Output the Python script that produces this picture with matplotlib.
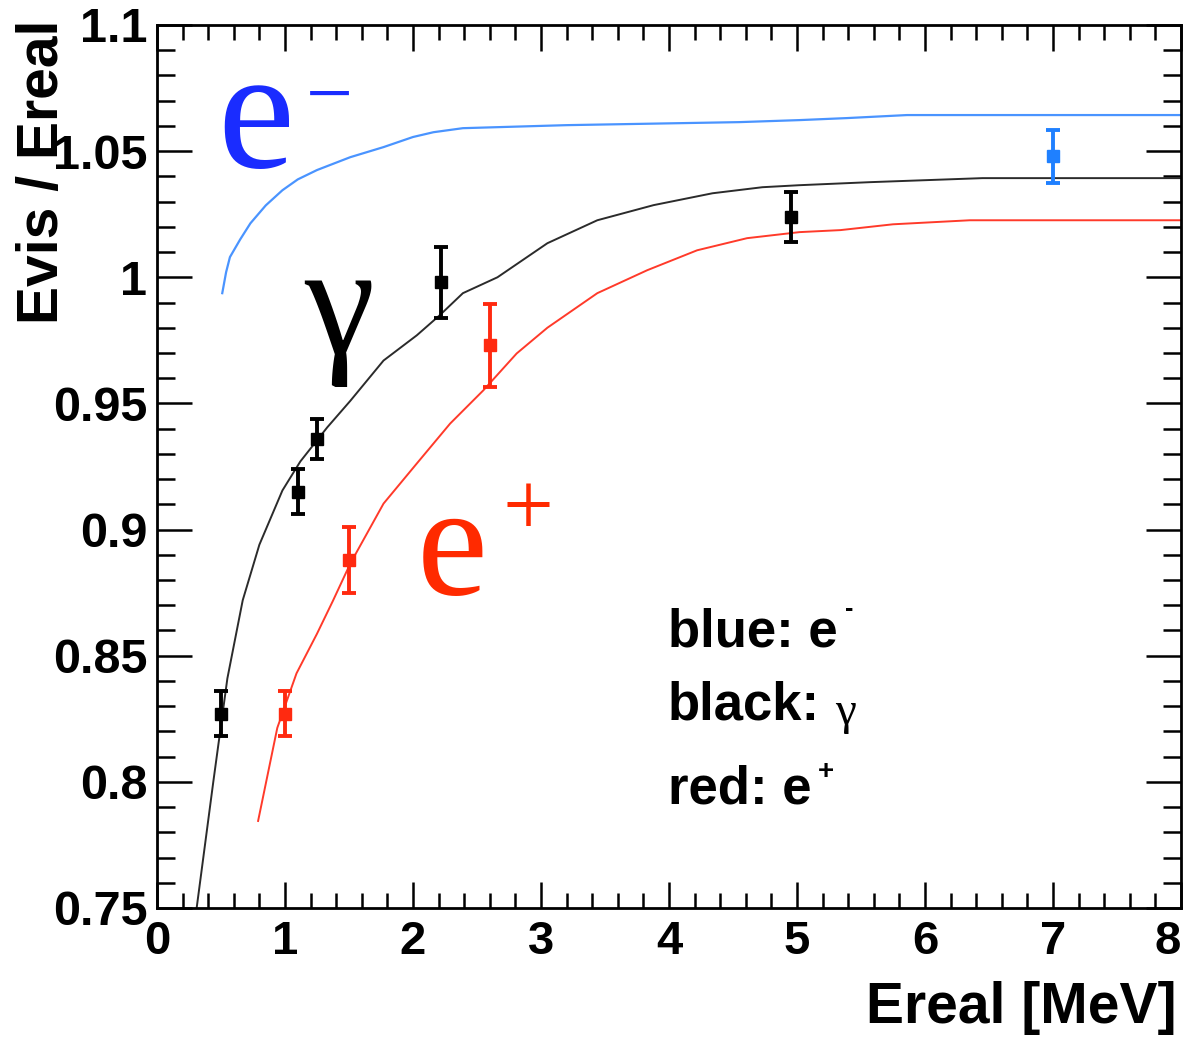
import matplotlib
matplotlib.use("Agg")
import matplotlib.pyplot as plt
from matplotlib.ticker import MultipleLocator

# measured points with errors
gamma_x = [0.5, 1.1, 1.25, 2.22, 4.95]
gamma_y = [0.827, 0.915, 0.936, 0.998, 1.024]
gamma_err = [0.009, 0.009, 0.008, 0.014, 0.010]

positron_x = [1.0, 1.5, 2.6]
positron_y = [0.827, 0.888, 0.973]
positron_err = [0.009, 0.013, 0.0165]

electron_x = [7.0]
electron_y = [1.048]
electron_err = [0.0105]

# model curves
gamma_curve_x = [0.31, 0.44, 0.55, 0.67, 0.80, 0.98, 1.12, 1.33, 1.51, 1.77, 2.03, 2.21,
                 2.39, 2.66, 3.05, 3.44, 3.88, 4.34, 4.73, 5.02, 5.57, 6.45, 8.0]
gamma_curve_y = [0.75, 0.800, 0.841, 0.872, 0.894, 0.9155, 0.927, 0.9405, 0.951, 0.967, 0.977, 0.985,
                 0.9937, 1.0, 1.0135, 1.0226, 1.0286, 1.0333, 1.0357, 1.0365, 1.0377, 1.0393, 1.0393]

positron_curve_x = [0.79, 0.94, 1.09, 1.25, 1.375, 1.51, 1.77, 2.03, 2.29, 2.55, 2.81,
                    3.05, 3.44, 3.83, 4.22, 4.61, 5.02, 5.34, 5.75, 6.35, 8.0]
positron_curve_y = [0.7845, 0.8214, 0.843, 0.8587, 0.8718, 0.8865, 0.9103, 0.9262, 0.942, 0.9552, 0.9698,
                    0.980, 0.9937, 1.0028, 1.0107, 1.0155, 1.0179, 1.0187, 1.0210, 1.0226, 1.0226]

electron_curve_x = [0.51, 0.54, 0.57, 0.65, 0.73, 0.85, 0.98, 1.1, 1.25, 1.51, 1.77, 2.0, 2.16, 2.39, 3.2,
                    4.55, 5.02, 5.39, 5.86, 8.0]
electron_curve_y = [0.9937, 1.002, 1.008, 1.015, 1.0214, 1.0285, 1.0345, 1.0388, 1.0425, 1.0476, 1.0516,
                    1.0556, 1.0575, 1.0591, 1.0603, 1.0615, 1.0623, 1.0631, 1.0643, 1.0643]

x_ticks = [0, 1, 2, 3, 4, 5, 6, 7, 8]
y_ticks = [0.75, 0.8, 0.85, 0.9, 0.95, 1.0, 1.05, 1.1]
y_tick_labels = ["0.75", "0.8", "0.85", "0.9", "0.95", "1", "1.05", "1.1"]

plt.rcParams["font.family"] = ["Liberation Sans", "DejaVu Sans"]

fig = plt.figure(figsize=(11.91, 10.37), dpi=100)
ax = fig.add_axes([0.1318, 0.1244, 0.8598, 0.8515])

ax.plot(electron_curve_x, electron_curve_y, color="#4a94ff", lw=1.6)
ax.plot(gamma_curve_x, gamma_curve_y, color="#2b2b2b", lw=1.4)
ax.plot(positron_curve_x, positron_curve_y, color="#ff3a2a", lw=1.4)

ax.errorbar(gamma_x, gamma_y, yerr=gamma_err, fmt="s", color="black", ms=8.5,
            elinewidth=2.8, capsize=5, capthick=2.8)
ax.errorbar(positron_x, positron_y, yerr=positron_err, fmt="s", color="#ff2a10", ms=8.5,
            elinewidth=2.8, capsize=5, capthick=2.8)
ax.errorbar(electron_x, electron_y, yerr=electron_err, fmt="s", color="#1f80ff", ms=8.5,
            elinewidth=2.8, capsize=5, capthick=2.8)

ax.set_xlim(0, 8)
ax.set_ylim(0.75, 1.1)
ax.set_xticks(x_ticks)
ax.set_xticklabels([str(t) for t in x_ticks])
ax.set_yticks(y_ticks)
ax.set_yticklabels(y_tick_labels)
ax.xaxis.set_minor_locator(MultipleLocator(0.2))
ax.yaxis.set_minor_locator(MultipleLocator(0.01))

for s in ax.spines.values():
    s.set_linewidth(2.0)

ax.tick_params(axis="both", which="both", direction="in", top=True, right=True, width=1.8)
ax.tick_params(axis="x", which="major", length=19, pad=9, labelsize=34)
ax.tick_params(axis="x", which="minor", length=11)
ax.tick_params(axis="y", which="major", length=25, pad=7, labelsize=35)
ax.tick_params(axis="y", which="minor", length=13)
for lbl in ax.get_xticklabels() + ax.get_yticklabels():
    lbl.set_fontweight("bold")
ax.get_xticklabels()[-1].set_horizontalalignment("right")

ax.set_xlabel("Ereal [MeV]", fontsize=41, fontweight="bold", loc="right")
ax.xaxis.set_label_coords(0.996, -0.083)
ax.set_ylabel("Evis / Ereal", fontsize=41, fontweight="bold", loc="top")
ax.yaxis.set_label_coords(-0.085, 1.006)

# big particle labels
serif = ["Liberation Serif", "DejaVu Serif"]
ax.text(0.47, 1.0437, "e", color="#1a2cff", fontsize=125, family=serif, va="baseline")
ax.text(1.35, 1.070, "\u2212", color="#1a2cff", fontsize=60, family=serif, ha="center", va="center")
ax.text(2.03, 0.8746, "e", color="#ff2a00", fontsize=115, family=serif, va="baseline")
ax.text(2.90, 0.9067, "+", color="#ff2a00", fontsize=65, family=serif, ha="center", va="center")
ax.text(1.42, 0.985, "\u03b3", color="black", fontsize=114, family=serif,
        ha="center", va="center")

# key
ax.text(3.99, 0.8535, "blue: e", fontsize=38, fontweight="bold", va="baseline")
ax.text(5.41, 0.8685, "-", fontsize=18, fontweight="bold", ha="center", va="center")
ax.text(3.99, 0.8249, "black:", fontsize=38, fontweight="bold", va="baseline")
ax.text(5.38, 0.8274, "\u03b3", fontsize=34, family=serif, ha="center", va="center")
ax.text(3.99, 0.7913, "red: e", fontsize=38, fontweight="bold", va="baseline")
ax.text(5.23, 0.8040, "+", fontsize=20, fontweight="bold", ha="center", va="center")

fig.savefig("out.png", dpi=100)
